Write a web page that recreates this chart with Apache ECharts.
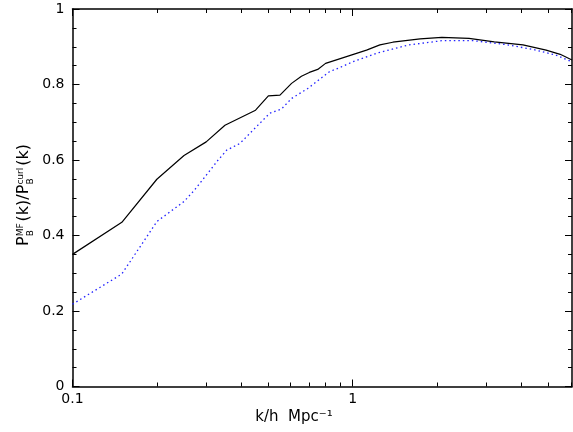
<!DOCTYPE html>
<html>
<head>
<meta charset="utf-8">
<script src="https://cdn.jsdelivr.net/npm/echarts@6/dist/echarts.min.js"></script>
<style>
  html, body { margin: 0; padding: 0; background: #fff; }
  #chart { width: 573px; height: 432px; }
</style>
</head>
<body>
<div id="chart"></div>
<script>
// k values (h/Mpc) and ratio for the solid (black) curve
const kSolid = [0.1, 0.15, 0.2, 0.25, 0.3, 0.35, 0.45, 0.5, 0.55, 0.605, 0.656, 0.7, 0.75, 0.8, 0.95, 1.12, 1.25, 1.39, 1.74, 2.08, 2.6, 3.2, 4.05, 4.9, 5.5, 6.06];
const ratioSolid = [0.350, 0.435, 0.549, 0.612, 0.648, 0.692, 0.732, 0.770, 0.772, 0.803, 0.822, 0.832, 0.840, 0.856, 0.874, 0.891, 0.905, 0.912, 0.921, 0.925, 0.922, 0.913, 0.905, 0.891, 0.880, 0.865];
// dotted (blue) curve
const kDotted = [0.1, 0.15, 0.2, 0.25, 0.273, 0.331, 0.355, 0.396, 0.46, 0.506, 0.557, 0.605, 0.693, 0.826, 0.9, 1.0, 1.23, 1.59, 2.08, 2.7, 3.5, 4.4, 5.3, 6.06];
const ratioDotted = [0.218, 0.298, 0.437, 0.490, 0.521, 0.600, 0.626, 0.644, 0.693, 0.724, 0.735, 0.763, 0.790, 0.834, 0.845, 0.860, 0.884, 0.905, 0.916, 0.916, 0.906, 0.893, 0.878, 0.860];
// axis ticks
const xMajorTicks = [0.1, 1];
const xMinorTicks = [0.2, 0.3, 0.4, 0.5, 0.6, 0.7, 0.8, 0.9, 2, 3, 4, 5, 6];
const xMin = 0.1, xMax = 6.06;

const chart = echarts.init(document.getElementById('chart'));
const FONT = 'DejaVu Sans';

const zipPts = (xs, ys) => xs.map((x, i) => [x, ys[i]]);

// x axis factory, all on log scale
function xAx(pos, ticks, len, labels) {
  return {
    type: 'log', logBase: 10, min: xMin, max: xMax, position: pos,
    axisLine: { show: labels !== null, lineStyle: { color: '#000', width: 1.5 } },
    axisTick: { show: true, inside: true, length: len, customValues: ticks, lineStyle: { color: '#000', width: 1 } },
    axisLabel: labels ? { show: true, customValues: xMajorTicks, color: '#000', fontFamily: FONT, fontSize: 14, margin: 6,
      formatter: v => (Math.abs(v - 0.1) < 1e-9 ? '0.1' : '1') } : { show: false },
    splitLine: { show: false }
  };
}
function yAx(pos, labels) {
  return {
    type: 'value', min: 0, max: 1, interval: 0.2, position: pos,
    axisLine: { show: true, lineStyle: { color: '#000', width: 1.5 } },
    axisTick: { show: true, inside: true, length: 7, lineStyle: { color: '#000' } },
    minorTick: { show: true, splitNumber: 4, length: 4, lineStyle: { color: '#000' } },
    axisLabel: { show: labels, color: '#000', fontFamily: FONT, fontSize: 14, margin: 8,
      formatter: v => String(Math.round(v * 10) / 10) },
    splitLine: { show: false }
  };
}

// y-axis title with stacked sub/superscripts, built as rotated text pieces
function yTitle() {
  const ctx = document.createElement('canvas').getContext('2d');
  const big = 16, small = 9;
  const w = (t, s) => { ctx.font = s + 'px "' + FONT + '"'; return ctx.measureText(t).width; };
  const parts = [];
  let x = 0;
  const add = (t, s, dy) => { parts.push({ type: 'text', x: x, y: dy, style: { text: t, font: s + 'px "' + FONT + '"', fill: '#000', textVerticalAlign: 'bottom' } }); };
  add('P', big, 0); x += w('P', big);
  add('MF', small, -7); add('B', small, 3); x += Math.max(w('MF', small), w('B', small)) + 2;
  add('(k)/P', big, 0); x += w('(k)/P', big);
  add('curl', small, -7); add('B', small, 3); x += Math.max(w('curl', small), w('B', small)) + 2;
  add('(k)', big, 0); x += w('(k)', big);
  // center the line on the plot's vertical middle
  parts.forEach(p => { p.x -= x / 2; });
  return { type: 'group', x: 32, y: 195, rotation: Math.PI / 2, children: parts };
}

chart.setOption({
  animation: false,
  backgroundColor: '#fff',
  grid: { left: 72.5, right: 1, top: 9, bottom: 45.5 },
  xAxis: [
    xAx('bottom', xMajorTicks, 7, true),
    xAx('bottom', xMinorTicks, 4, null),
    xAx('top', xMajorTicks, 7, false),
    xAx('top', xMinorTicks, 4, null)
  ],
  yAxis: [yAx('left', true), yAx('right', false)],
  series: [
    {
      type: 'line', xAxisIndex: 0, yAxisIndex: 0, data: zipPts(kSolid, ratioSolid),
      symbol: 'none', lineStyle: { color: '#000', width: 1.2 }
    },
    {
      type: 'line', xAxisIndex: 0, yAxisIndex: 0, data: zipPts(kDotted, ratioDotted),
      symbol: 'none', lineStyle: { color: '#2222ff', width: 1.3, type: [1.5, 3] }
    }
  ],
  graphic: [
    yTitle(),
    { type: 'text', x: 294, y: 417, style: { text: 'k/h  Mpc⁻¹', font: '15px "' + FONT + '"', fill: '#000', textAlign: 'center', textVerticalAlign: 'middle' } }
  ]
});
</script>
</body>
</html>
